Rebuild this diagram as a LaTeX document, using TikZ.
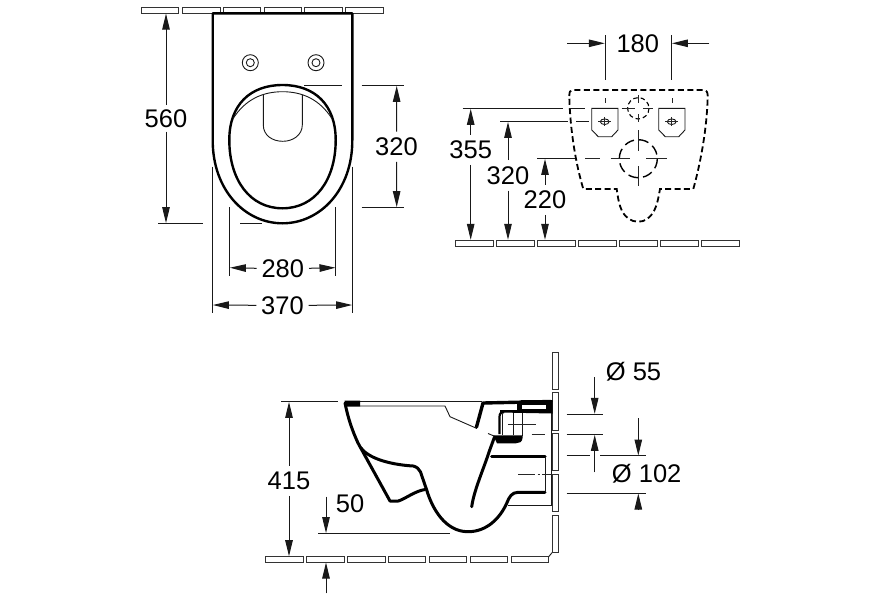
\documentclass[tikz,border=0pt]{standalone}
\usepackage{fontspec}
\setmainfont{Liberation Sans}
\usetikzlibrary{arrows.meta}
\tikzset{
  dimline/.style={line width=1pt,draw=black!90},
  dimarrow/.style={dimline,-{Triangle[length=16pt,width=7.5pt]}},
  dimtext/.style={font=\fontsize{25.5}{25.5}\selectfont,inner sep=0pt,minimum height=0pt,text=black},
  strip/.style={line width=1pt,draw=black!80,fill=white},
  thin line/.style={line width=0.9pt,draw=black!90},
  heavy/.style={line width=2.4pt,line join=round,draw=black},
  sect/.style={line width=3pt,line join=round,line cap=round,draw=black},
  hidden/.style={line width=1.8pt,dash pattern=on 6pt off 3.4pt,draw=black},
  centre/.style={line width=1pt,draw=black!85},
}
\begin{document}
\begin{tikzpicture}[x=1pt,y=-1pt]
\useasboundingbox (0,0) rectangle (880,600);
\fill[white] (0,0) rectangle (880,600);
% ---------- top view ----------
\foreach \a/\b in {141/178.3,182.3/220,223/260.7,264/301.7,304.7/342.3,345.7/383.3}
  \draw[strip] (\a,7.5) rectangle (\b,13);
\draw[heavy,fill=white] (212.7,13.3) -- (352.3,13.3) -- (352.3,140) .. controls (352.5,190) and (320,223.3) .. (282.5,223.3) .. controls (245,223.3) and (212.5,190) .. (212.7,140) -- cycle;
\draw[heavy] (282.5,85) .. controls (315,85) and (335.7,105) .. (335.7,140) .. controls (335.7,180) and (315,208.3) .. (282.5,208.3) .. controls (250,208.3) and (229.3,180) .. (229.3,140) .. controls (229.3,105) and (250,85) .. (282.5,85) -- cycle;
\draw[thin line] (233.3,118.3) .. controls (245,100) and (262,91.7) .. (282.5,91.7) .. controls (303,91.7) and (320,100) .. (331.7,118.3);
\draw[thin line] (263.3,95) -- (263.3,125) .. controls (263.3,135) and (272,141.3) .. (282.8,141.3) .. controls (293,141.3) and (302.3,135) .. (302.3,125) -- (302.3,95);
\foreach \x in {250.3,316} {
  \draw[thin line] (\x,62.7) circle (8);
  \draw[thin line] (\x,62.7) circle (4);
}
% 560
\node[dimtext,minimum height=26pt] (t560) at (166,118.3) {560};
\coordinate (a560t) at (166,13.6);
\coordinate (a560b) at (166,223.1);
\draw[dimarrow] (t560.north) -- (a560t);
\draw[dimarrow] (t560.south) -- (a560b);
\draw[dimline] (158.3,223.3) -- (203.3,223.3);
\draw[dimline] (240,223.3) -- (261.7,223.3);
% 320 top view
\node[dimtext,minimum height=30pt] (t320a) at (396.5,146.7) {320};
\coordinate (a320t) at (396.7,85.9);
\coordinate (a320b) at (396.7,207.1);
\draw[dimarrow] (t320a.north) -- (a320t);
\draw[dimarrow] (t320a.south) -- (a320b);
\draw[dimline] (361.7,85.7) -- (404.3,85.7);
\draw[dimline] (304,85.7) -- (342.3,85.7);
\draw[dimline] (361.7,207.3) -- (404.3,207.3);
% 280
\node[dimtext,minimum width=52pt] (t280) at (282.8,268.3) {280};
\coordinate (a280l) at (229.9,267.7);
\coordinate (a280r) at (335.5,267.7);
\draw[dimarrow] (t280.west) -- (a280l);
\draw[dimarrow] (t280.east) -- (a280r);
\draw[dimline] (229.7,207.3) -- (229.7,276);
\draw[dimline] (335.7,207.3) -- (335.7,276);
% 370
\node[dimtext,minimum width=52pt] (t370) at (282.5,305.3) {370};
\coordinate (a370l) at (212.9,305);
\coordinate (a370r) at (352.1,305);
\draw[dimarrow] (t370.west) -- (a370l);
\draw[dimarrow] (t370.east) -- (a370r);
\draw[dimline] (212.7,166.7) -- (212.7,312.7);
\draw[dimline] (352.3,166.7) -- (352.3,312.7);
% ---------- rear view ----------
\foreach \a/\b in {455.7/493.3,496.7/534.3,537.7/575.3,578.3/616,619.3/657,660.3/698,701.3/739}
  \draw[strip] (\a,240.2) rectangle (\b,246);
\draw[hidden] (569.3,96) .. controls (569.3,92) and (570,90) .. (573,90) -- (703.3,90) .. controls (706.5,90) and (707.7,92) .. (707.7,96) .. controls (707,130) and (700,165) .. (693.3,189) -- (660,189) .. controls (658,200) and (657,205) .. (654,211) .. controls (650,218) and (645,221.7) .. (638.3,221.7) .. controls (631,221.7) and (626,218) .. (622,211) .. controls (619,205) and (618,198) .. (616.7,189) -- (583.3,189) .. controls (576,165) and (570,130) .. (569.3,96);
\foreach \x in {591.7,658.7} {
  \draw[thin line] (\x,108.3) -- (\x,130) -- (\x+6.6,136.7) -- (\x+20,136.7) -- (\x+26.3,130) -- (\x+26.3,108.3) -- cycle;
  \draw[thin line] (\x+13,121.7) ellipse (4.4 and 2.8);
  \draw[centre] (\x+13,117) -- (\x+13,126.4);
  \draw[centre] (\x+6.5,121.7) -- (\x+19.5,121.7);
  \draw[centre] (\x+13.3,98.3) -- (\x+13.3,103.3);
}
% small and large circles
\draw[line width=1.1pt,dash pattern=on 4.5pt off 3pt] (638.3,108.3) circle (10.7);
\draw[centre,line width=1.1pt] (638.3,95) -- (638.3,103) (638.3,114) -- (638.3,121.7) (621.7,108.5) -- (635,108.5) (643,108.5) -- (652.7,108.5);
\draw[line width=1.4pt,dash pattern=on 10pt off 5pt] (638.3,158.7) circle (19);
\draw[centre,line width=1.1pt] (638.3,130) -- (638.3,150.7) (638.3,166) -- (638.3,186) (610.7,158.7) -- (630,158.7) (646,158.7) -- (666.7,158.7);
\draw[centre] (585,158.7) -- (600,158.7);
% 180
\node[dimtext] (t180) at (637.8,43.3) {180};
\coordinate (a180l) at (567.3,43.3);
\coordinate (a180lt) at (604.8,43.3);
\coordinate (a180r) at (709.3,43.3);
\coordinate (a180rt) at (671.9,43.3);
\draw[dimarrow] (a180l) -- (a180lt);
\draw[dimarrow] (a180r) -- (a180rt);
\draw[dimline] (605,35.3) -- (605,80);
\draw[dimline] (671.7,35.3) -- (671.7,80);
% 355
\node[dimtext,minimum height=30pt] (t355) at (470.7,149.7) {355};
\coordinate (a355t) at (470.7,108.9);
\coordinate (a355b) at (470.7,239.8);
\draw[dimarrow] (t355.north) -- (a355t);
\draw[dimarrow] (t355.south) -- (a355b);
\draw[dimline] (462.7,108.7) -- (563.3,108.7);
\draw[dimline] (569,108.7) -- (585,108.7);
\draw[dimline] (622,108.5) -- (624,108.5);
% 320 rear
\node[dimtext,minimum height=30pt] (t320b) at (508,175.3) {320};
\coordinate (a320bt) at (508,121.9);
\coordinate (a320bb) at (508,239.8);
\draw[dimarrow] (t320b.north) -- (a320bt);
\draw[dimarrow] (t320b.south) -- (a320bb);
\draw[dimline] (500,121.7) -- (568.3,121.7);
\draw[dimline] (576,121.7) -- (589,121.7);
% 220
\node[dimtext,minimum height=30pt] (t220) at (545,199.7) {220};
\coordinate (a220t) at (545,158.9);
\coordinate (a220b) at (545,239.8);
\draw[dimarrow] (t220.north) -- (a220t);
\draw[dimarrow] (t220.south) -- (a220b);
\draw[dimline] (537.3,158.7) -- (575,158.7);
% ---------- side section ----------
\foreach \a/\b in {352/389.3,392.7/430,433.7/470.7,474.3/511.7}
  \draw[strip] (552,\a) rectangle (558,\b);
\draw[strip] (552,515) -- (558,515) -- (558,552.7) -- (552,552.7) -- cycle;
\foreach \a/\b in {265.7/303.3,306.7/344,347.3/385,388.3/425.7,429/466.7,470.3/507.7,511/548.7}
  \draw[strip] (\a,556.7) rectangle (\b,562.3);
\draw[thin line] (548.7,556.7) -- (552,552.7);
\draw[thin line] (551.7,401) -- (551.7,505) -- (508.3,505);
% thin rim lines
\draw[thin line] (345,401.7) -- (482,401.7);
\draw[thin line] (360,406) -- (445,406) -- (450,416.7) -- (477,428.5) (488,433.5) -- (494,436);
\fill (344.5,400.5) -- (360,400.5) -- (360,406.5) -- (346,406.5) -- cycle;
% outer bowl
\draw[sect] (345,403) .. controls (348,418) and (352,430) .. (358,443) -- (390,501) -- (398.3,501) .. controls (405,499) and (415,491) .. (425,489.5);
\draw[sect] (361,448) .. controls (370,460) and (395,465) .. (413.3,466) .. controls (417,467) and (419,469) .. (420.5,472) -- (426.7,490) .. controls (432,508) and (445,531.7) .. (468,531.7) .. controls (487,531.7) and (500,518) .. (506.7,503.3) .. controls (509,497) and (512,492.3) .. (518,492.3) -- (545,492.3);
\draw[sect] (491.7,456.7) -- (545,456.7);
\draw[thin line] (545,456.7) -- (545,492.3);
\draw[sect] (471.7,506.7) .. controls (474,490) and (484,468) .. (489,452) -- (494.5,437);
% upper right block
\draw[sect,line width=3.4pt] (476.5,427) -- (483,403) -- (551,401.5);
\fill (516.7,403) rectangle (521.5,413);
\fill (521,400) -- (552.5,400) -- (552.5,413.5) -- (500,412.5) -- (500,410) -- (521,410) -- cycle;
\fill[white] (521.5,404.5) rectangle (546,408.8);
\draw[line width=2.2pt,black] (499.5,434) -- (499.5,417) .. controls (499.5,413.5) and (501,412) .. (504,412);
\draw[thin line] (502.7,414) -- (502.7,435);
\draw[thin line] (513.3,413) -- (513.3,435);
\draw[thin line] (522,413) -- (522,436);
\fill (493.3,435.3) -- (522.5,435.3) -- (522.5,438) .. controls (522.5,442) and (519,443.3) .. (516,443.3) -- (497,443.3) -- cycle;
\fill[white] (484,430.3) -- (487.5,432) -- (486.5,434) -- (483,432.3) -- cycle;
% centre lines
\draw[centre] (508.3,424.3) -- (536,424.3);
\draw[centre] (531.7,434.5) -- (545,434.5);
\draw[centre] (518.3,474.7) -- (535,474.7) (537.5,474.7) -- (539.5,474.7) (542,474.7) -- (551.7,474.7);
% 415
\node[dimtext,minimum height=30pt] (t415) at (289,480.7) {415};
\coordinate (a415t) at (289,401.9);
\coordinate (a415b) at (289,556.2);
\draw[dimarrow] (t415.north) -- (a415t);
\draw[dimarrow] (t415.south) -- (a415b);
\draw[dimline] (281,401.7) -- (337.7,401.7);
% 50
\node[dimtext] (t50) at (350,503.5) {50};
\coordinate (a50s) at (326,496.7);
\coordinate (a50t) at (326,533.1);
\coordinate (b50s) at (326,593.3);
\coordinate (b50t) at (326,562.5);
\draw[dimarrow] (a50s) -- (a50t);
\draw[dimarrow] (b50s) -- (b50t);
\draw[dimline] (318.3,533.3) -- (450,533.3);
% diameters
\node[dimtext] (t55) at (633.5,371.7) {Ø 55};
\node[dimtext] (t102) at (646.7,473.3) {Ø 102};
\coordinate (d1s) at (594.7,377.3);
\coordinate (d1t) at (594.7,413.8);
\coordinate (d2s) at (594.7,472.3);
\coordinate (d2t) at (594.7,434.9);
\coordinate (d3s) at (638.3,418.3);
\coordinate (d3t) at (638.3,455.5);
\coordinate (d4s) at (638.3,510);
\coordinate (d4t) at (638.3,493.5);
\draw[dimarrow] (d1s) -- (d1t);
\draw[dimarrow] (d2s) -- (d2t);
\draw[dimarrow] (d3s) -- (d3t);
\draw[dimarrow] (d4s) -- (d4t);
\draw[dimline] (566.7,414) -- (602.7,414);
\draw[dimline] (566.7,434.7) -- (602.7,434.7);
\draw[dimline] (566.7,455.7) -- (590,455.7);
\draw[dimline] (600,455.7) -- (646,455.7);
\draw[dimline] (566.7,493.3) -- (646,493.3);
\end{tikzpicture}
\end{document}
